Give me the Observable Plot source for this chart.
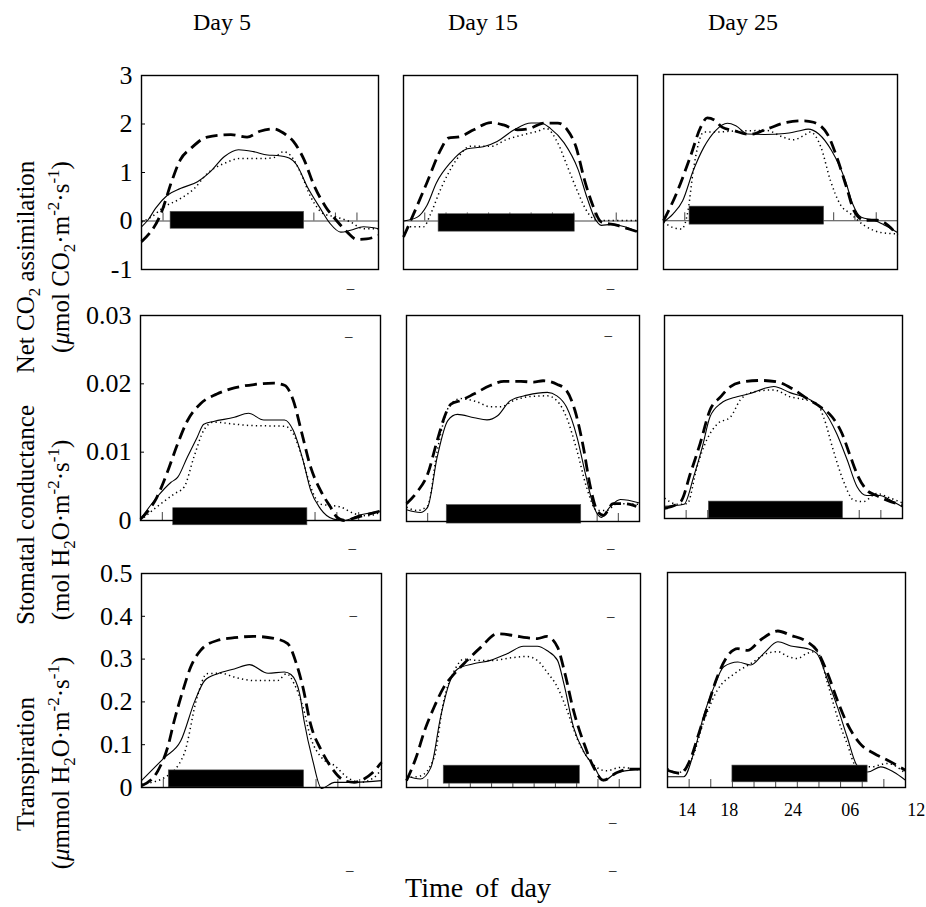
<!DOCTYPE html>
<html><head><meta charset="utf-8">
<script src="https://cdn.jsdelivr.net/npm/d3@7"></script>
<script src="https://cdn.jsdelivr.net/npm/@observablehq/plot@0.6"></script>
<style>
body{margin:0;background:#fff;font-family:"Liberation Serif","Times New Roman",Times,"DejaVu Serif",serif;color:#000;}
#fig{position:relative;width:926px;height:907px;overflow:hidden;}
.p{position:absolute;}
.p svg{overflow:visible;background:transparent;max-width:none !important;display:block;}
.p svg text{font-family:"Liberation Serif","Times New Roman",Times,"DejaVu Serif",serif !important;}
.vl{position:absolute;white-space:nowrap;font-size:25px;line-height:1;transform:translate(-50%,-50%) rotate(-90deg);}
.vl sub,.vl sup{font-size:17px;line-height:0;}
.ct{position:absolute;white-space:nowrap;font-size:24px;transform:translate(-50%,-50%);}
</style></head>
<body><div id="fig"></div>
<script>
// ---------- data ----------
const days = ["Day 5", "Day 15", "Day 25"];
const hourTicks = [2, 4, 6, 8, 10, 12, 14, 16, 18, 20];
const timeLabelPos = [1.8, 5.7, 11.6, 16.9, 23.0];
const timeLabels = ["14", "18", "24", "06", "12"];
const co2Ticks = [-1, 0, 1, 2, 3];
const gsTicks = [0, 0.01, 0.02, 0.03];
const trTicks = [0, 0.1, 0.2, 0.3, 0.4, 0.5];

// Net CO2 assimilation [hour, value]
const co2_d5_solid = [[0,-0.12],[0.6,0.02],[1.3,0.26],[2.4,0.53],[3.6,0.67],[5.2,0.81],[6.4,1.02],[7.7,1.33],[9,1.47],[10.4,1.43],[11.7,1.36],[12.6,1.35],[13.7,1.3],[14.4,1.16],[15.4,0.7],[16.6,0.26],[17.5,-0.05],[18.5,-0.23],[19.4,-0.19],[20.6,-0.12],[22,-0.16]];
const co2_d5_dot = [[0,-0.02],[0.9,0.08],[2.1,0.29],[3.6,0.46],[4.9,0.67],[6.1,0.98],[7.7,1.19],[9.2,1.29],[11.4,1.29],[12.3,1.31],[13.2,1.43],[13.8,1.36],[14.8,0.98],[15.7,0.5],[16.9,0.15],[18.1,0.08],[19.4,-0.02],[20.6,-0.16],[22,-0.16]];
const co2_d5_dash = [[0,-0.43],[1.8,0.15],[2.9,0.88],[3.6,1.26],[4.6,1.5],[6.1,1.73],[8.3,1.78],[9.8,1.73],[11,1.85],[12.3,1.9],[13.2,1.81],[14.1,1.64],[15.1,1.26],[16,0.74],[17.1,0.29],[18.1,0.01],[19.1,-0.23],[20,-0.38],[20.9,-0.37],[22,-0.3]];
const co2_d15_solid = [[0,0],[1.3,0.08],[2.2,0.32],[3.1,0.79],[4.4,1.2],[6,1.49],[7.5,1.53],[8.8,1.64],[10.4,1.88],[12,2.02],[12.9,2.02],[13.8,1.91],[15.1,1.61],[16.4,1.07],[17.3,0.45],[18,0.05],[18.6,-0.09],[19.5,-0.07],[20.8,-0.12],[22,-0.22]];
const co2_d15_dot = [[0.6,-0.12],[1.9,-0.12],[2.5,0.12],[3.5,0.66],[5,1.27],[6.3,1.54],[8.2,1.54],[9.7,1.68],[11.3,1.78],[12.6,1.85],[13.4,1.91],[14.5,1.61],[15.4,1.13],[16.4,0.59],[17.3,0.18],[18.3,0.01],[20.1,0.01],[22,0.01]];
const co2_d15_dash = [[0,-0.33],[0.9,0.12],[2.2,0.79],[3.5,1.47],[4.2,1.71],[5.3,1.74],[6.6,1.88],[8.2,2.03],[9.4,1.98],[10.7,1.88],[11.9,1.91],[13.2,2.02],[14.5,2.02],[15.4,1.88],[16.2,1.54],[17,0.86],[17.8,0.32],[18.6,-0.02],[20.1,-0.09],[21.1,-0.16],[22,-0.22]];
const co2_d25_solid = [[0,-0.03],[0.9,0.14],[1.8,0.41],[2.8,1.03],[3.8,1.51],[4.9,1.85],[6,2.0],[6.8,1.95],[7.9,1.78],[9.5,1.77],[11.4,1.79],[12.7,1.84],[13.6,1.88],[14.6,1.78],[15.8,1.44],[17.1,0.82],[17.8,0.34],[18.6,0.07],[19.8,0.01],[20.7,-0.08],[22,-0.24]];
const co2_d25_dot = [[0,-0.03],[0.9,-0.14],[1.7,-0.17],[2.3,0.2],[2.8,1.03],[3.8,1.82],[5,1.82],[6.6,1.84],[9.7,1.85],[11.3,1.71],[12.2,1.66],[13.2,1.75],[13.8,1.82],[14.8,1.51],[15.7,0.82],[16.6,0.34],[17.6,0.14],[18.9,-0.1],[20.4,-0.24],[22,-0.27]];
const co2_d25_dash = [[0,0],[1.2,0.55],[2.5,1.3],[3.5,1.92],[4.1,2.11],[4.9,2.05],[5.5,1.92],[6.6,1.85],[8.1,1.77],[9.7,1.88],[11.6,2.02],[13.2,2.05],[14.1,2.02],[15.4,1.78],[16.3,1.3],[17.3,0.62],[17.9,0.21],[18.9,0.01],[20.1,0.01],[22,-0.29]];

// Stomatal conductance
const gs_d5_solid = [[0,0.0002],[1.5,0.0034],[2.8,0.0056],[3.4,0.0063],[4.3,0.0093],[5.2,0.0122],[5.8,0.0141],[6.7,0.0145],[8.6,0.0151],[9.9,0.0157],[11.3,0.0147],[13.2,0.0147],[14,0.0132],[14.9,0.0088],[15.6,0.0044],[16.5,0.0017],[17.7,0.0002],[18.7,0],[19.9,0.0007],[22,0.0014]];
const gs_d5_dot = [[0,0],[1.5,0.002],[3.1,0.0039],[4,0.0049],[4.9,0.0093],[5.8,0.0132],[6.7,0.0144],[8.6,0.0141],[10.1,0.0139],[13.2,0.0138],[14,0.0127],[14.8,0.0093],[15.6,0.0049],[16.5,0.0024],[17.4,0.0022],[18.3,0.002],[19.6,0.001],[20.8,0.0007],[22,0.0012]];
const gs_d5_dash = [[0,0.0002],[1.5,0.0034],[2.4,0.0068],[3.4,0.0112],[4.3,0.0146],[5.5,0.0171],[7,0.0185],[8.6,0.0194],[10.4,0.0199],[12.2,0.0201],[13.2,0.0198],[14,0.0176],[14.8,0.0127],[15.6,0.0078],[16.5,0.0044],[17.4,0.002],[18,0.0005],[18.7,0],[19.9,0.0005],[21.1,0.001],[22,0.0014]];
const gs_d15_solid = [[0,0.0017],[1.3,0.0013],[2,0.0021],[2.9,0.0094],[3.9,0.0147],[4.8,0.0156],[6.4,0.0151],[7.6,0.0148],[8.6,0.0154],[9.8,0.0176],[11.4,0.0184],[13.3,0.0188],[14.2,0.0183],[15.1,0.0167],[16.1,0.0123],[16.9,0.0069],[17.7,0.0021],[18.4,0.0006],[19.2,0.0021],[20.2,0.0032],[22,0.0027]];
const gs_d15_dot = [[0,0.0021],[1,0.0016],[2,0.0023],[2.9,0.0103],[4,0.0167],[5.1,0.0179],[6.7,0.0174],[7.9,0.0167],[8.9,0.0167],[10.1,0.0176],[11.7,0.0182],[13.3,0.0183],[14.2,0.0176],[15.1,0.0152],[16.1,0.0103],[17,0.005],[18,0.0016],[18.9,0.0016],[19.9,0.0026],[22,0.0025]];
const gs_d15_dash = [[0,0.0026],[1,0.0043],[2,0.0069],[2.9,0.0118],[3.7,0.0157],[4.2,0.0171],[5.1,0.0176],[6.4,0.0186],[7.9,0.0198],[9.2,0.0204],[10.8,0.0204],[12,0.0203],[12.9,0.0205],[14.2,0.02],[15.1,0.0191],[15.9,0.0162],[16.7,0.0108],[17.3,0.0055],[18,0.0016],[18.6,0.0009],[19.5,0.0026],[20.5,0.0026],[21.7,0.0022]];
const gs_d25_solid = [[0,0.0018],[1.8,0.0021],[2.7,0.0062],[3.5,0.0106],[4.2,0.015],[5.2,0.017],[6.7,0.018],[8,0.0185],[9.2,0.0192],[10.1,0.0195],[11.6,0.0186],[13.5,0.0175],[14.7,0.016],[15.9,0.0126],[16.9,0.0086],[17.8,0.0047],[18.7,0.0034],[19.9,0.0034],[20.9,0.0027],[22,0.0017]];
const gs_d25_dot = [[0,0.003],[1.2,0.0021],[2.1,0.0022],[3,0.0076],[3.9,0.0116],[4.9,0.014],[6.1,0.015],[7,0.0175],[8.2,0.0187],[10.1,0.019],[11.6,0.018],[12.9,0.0176],[14.1,0.017],[14.7,0.015],[15.6,0.0101],[16.5,0.0057],[17.5,0.0027],[18.4,0.0025],[19.6,0.0037],[20.9,0.003],[22,0.0023]];
const gs_d25_dash = [[0,0.0015],[1.5,0.0025],[2.4,0.0067],[3.3,0.0111],[4.2,0.016],[5.2,0.018],[6.1,0.0195],[7.3,0.0202],[8.9,0.0204],[10.4,0.0202],[11.9,0.0191],[13.2,0.0177],[14.4,0.0165],[15.5,0.015],[16.4,0.0126],[17.2,0.0091],[17.9,0.0062],[18.7,0.0042],[19.6,0.0034],[20.9,0.0025],[22,0.002]];

// Transpiration
const tr_d5_solid = [[0,0.016],[2.1,0.07],[3.6,0.109],[4.9,0.203],[5.8,0.25],[7,0.266],[8.5,0.277],[9.9,0.287],[11.6,0.267],[13.1,0.27],[13.7,0.264],[14.5,0.219],[14.9,0.156],[15.7,0.063],[16.5,-0.002],[17.7,0.012],[19.5,0.012],[22,0.016]];
const tr_d5_dot = [[0,0.008],[2.1,0.023],[3.9,0.078],[5.1,0.211],[6,0.266],[7.3,0.267],[8.5,0.258],[10.3,0.25],[12.5,0.25],[13.3,0.266],[14,0.242],[14.8,0.188],[15.5,0.117],[16.5,0.07],[17.7,0.051],[18.9,0.023],[20.1,0.012],[21.3,0.023],[22,0.043]];
const tr_d5_dash = [[0,0.004],[1.5,0.039],[2.4,0.094],[3,0.156],[3.8,0.227],[4.5,0.281],[5.4,0.32],[7,0.344],[8.5,0.35],[10.3,0.353],[12.2,0.348],[13.4,0.336],[14.2,0.289],[14.8,0.234],[15.5,0.148],[16.5,0.086],[17.4,0.047],[18.6,0.016],[19.5,0.012],[20.4,0.02],[21.2,0.035],[22,0.059]];
const tr_d15_solid = [[0,0.027],[1.3,0.02],[2.3,0.047],[3.2,0.164],[4,0.242],[4.8,0.277],[6.3,0.289],[7.9,0.297],[9.5,0.313],[11,0.33],[12.3,0.33],[13.2,0.32],[14.2,0.297],[14.8,0.242],[15.7,0.141],[16.7,0.082],[17.6,0.051],[18.5,0.016],[19.8,0.035],[22,0.043]];
const tr_d15_dot = [[0,0.023],[1.3,0.027],[2.6,0.07],[3.5,0.203],[4.5,0.273],[5.4,0.3],[6.7,0.297],[8.2,0.297],[9.8,0.303],[11.3,0.306],[12.3,0.297],[13.2,0.27],[14.2,0.234],[15.1,0.18],[16,0.117],[17,0.07],[17.9,0.047],[18.8,0.039],[20.1,0.047],[22,0.04]];
const tr_d15_dash = [[0,0.016],[0.9,0.07],[1.7,0.133],[2.6,0.188],[3.5,0.234],[4.5,0.266],[5.7,0.297],[7,0.328],[8.5,0.359],[10.1,0.355],[11.3,0.35],[12.3,0.348],[13.2,0.353],[14.2,0.328],[14.9,0.266],[15.7,0.18],[16.7,0.102],[17.6,0.047],[18.5,0.017],[19.8,0.035],[21,0.043],[22,0.043]];
const tr_d25_solid = [[0,0.025],[1.5,0.025],[2.5,0.087],[3.4,0.172],[4.3,0.234],[5.2,0.281],[6.5,0.292],[7.7,0.285],[8.9,0.312],[10.2,0.339],[11.4,0.329],[12.9,0.323],[13.8,0.312],[14.8,0.25],[15.7,0.188],[16.6,0.118],[17.5,0.052],[18.5,0.036],[19.7,0.048],[20.9,0.036],[22,0.017]];
const tr_d25_dot = [[0,0.044],[0.9,0.034],[2.2,0.064],[3.4,0.157],[4.6,0.226],[6.2,0.265],[7.7,0.288],[9.2,0.312],[10.2,0.316],[11.1,0.305],[12,0.3],[12.9,0.312],[13.8,0.316],[14.8,0.242],[15.7,0.164],[16.6,0.102],[17.5,0.048],[18.8,0.048],[20.3,0.056],[22,0.033]];
const tr_d25_dash = [[0,0.04],[1.2,0.033],[2.2,0.071],[2.9,0.126],[3.7,0.188],[4.6,0.257],[5.5,0.304],[6.5,0.323],[7.4,0.319],[8.6,0.343],[10.2,0.364],[11.4,0.354],[12.9,0.339],[13.8,0.319],[14.8,0.265],[15.7,0.203],[16.6,0.149],[17.8,0.102],[19.1,0.079],[20.3,0.064],[22,0.04]];

// dark-period bars [start hour, end hour, low, high] per day
const co2Bars = [[2.7,15.1,-0.16,0.19],[3.3,16.1,-0.22,0.14],[2.45,15.1,-0.08,0.29]];
const gsBars = [[3.0,15.3,-0.0007,0.0018],[3.8,16.5,-0.0003,0.0024],[4.1,16.5,0,0.0025]];
const trBars = [[2.5,14.9,0,0.04],[3.5,16.3,0.009,0.051],[6.0,18.5,0.012,0.051]];

// stray dash glyphs in the figure [hour, value]
const co2Strays = [[[19.4,-1.39]],[[19.45,-1.39]],[]];
const gsStrays = [[[19.1,0.0269],[19.4,-0.0041]],[[19.05,0.0272]],[]];
const trStrays = [[[19.4,0.402],[19.1,-0.194]],[[19.2,0.40],[19.2,0.558],[19.4,-0.082],[19.4,-0.194]],[]];

// ---------- layout ----------
const SERIF = "'Liberation Serif', 'Times New Roman', Times, 'DejaVu Serif', serif";
const fig = document.getElementById("fig");
const rows = [
  {boxes:[[141,75,378,269],[403,75,637,269],[663,74,897,269]], domain:[-1,3], ticks:co2Ticks, base:0, zero:true,
   series:[[co2_d5_solid,co2_d5_dot,co2_d5_dash],[co2_d15_solid,co2_d15_dot,co2_d15_dash],[co2_d25_solid,co2_d25_dot,co2_d25_dash]],
   bars:co2Bars, strays:co2Strays},
  {boxes:[[140,315,380,520],[406,315,639,521],[664,315,902,518]], domain:[0,0.03], ticks:gsTicks, base:0, zero:false,
   series:[[gs_d5_solid,gs_d5_dot,gs_d5_dash],[gs_d15_solid,gs_d15_dot,gs_d15_dash],[gs_d25_solid,gs_d25_dot,gs_d25_dash]],
   bars:gsBars, strays:gsStrays},
  {boxes:[[141,573,381,787],[406,573,640,787],[667,572,905,787]], domain:[0,0.5], ticks:trTicks, base:0, zero:false,
   series:[[tr_d5_solid,tr_d5_dot,tr_d5_dash],[tr_d15_solid,tr_d15_dot,tr_d15_dash],[tr_d25_solid,tr_d25_dot,tr_d25_dash]],
   bars:trBars, strays:trStrays}
];
const styles = [
  {strokeWidth:1.1},
  {strokeWidth:1.5, strokeDasharray:"1.3,3.2"},
  {strokeWidth:2.8, strokeDasharray:"12,6"}
];

rows.forEach((row, ri) => {
  row.boxes.forEach((box, ci) => {
    const [L,T,R,B] = box;
    const w = R - L, h = B - T;
    const ml = 70, mr = 40, mt = 20, mb = 110;
    const [y0, y1] = row.domain;
    const basePx = h * (y1 - row.base) / (y1 - y0);
    const marks = [];
    if (row.zero) marks.push(Plot.ruleY([0], {stroke:"#444", strokeWidth:1}));
    // time ticks pointing up from the baseline
    marks.push(Plot.ruleX(hourTicks, {x:d=>d, y1:y1, y2:row.base, stroke:"#444", strokeWidth:1, insetTop: basePx - 8}));
    row.series[ci].forEach((s, si) => {
      marks.push(Plot.line(s, {x:d=>d[0], y:d=>d[1], stroke:"#000", curve:"monotone-x", strokeLinecap:"butt", ...styles[si]}));
    });
    const b = row.bars[ci];
    marks.push(Plot.rect([b], {x1:d=>d[0], x2:d=>d[1], y1:d=>d[2], y2:d=>d[3], fill:"#000", stroke:"#555", strokeWidth:0.6}));
    marks.push(Plot.frame({stroke:"#000", strokeWidth:1.4}));
    if (ci === 0) {
      marks.push(Plot.ruleY(row.ticks, {y:d=>d, x1:0, x2:22, insetRight: w - 4, stroke:"#000", strokeWidth:1}));
      marks.push(Plot.text(row.ticks, {x:0, y:d=>d, text:d=>String(d), textAnchor:"end", dx:-9, fontSize:26, fontFamily:SERIF, fill:"#000"}));
    }
    if (ri === 2 && ci === 2) {
      marks.push(Plot.text(timeLabelPos, {x:d=>d, y:y0, text:(d,i)=>timeLabels[i], dy:23, fontSize:18, fontFamily:SERIF, fill:"#000"}));
    }
    const st = row.strays[ci];
    if (st.length) marks.push(Plot.text(st, {x:d=>d[0], y:d=>d[1], text:()=>"\u2013", fontSize:15, fontFamily:SERIF, fill:"#000"}));

    const W = w + ml + mr, Hh = h + mt + mb;
    const svg = Plot.plot({
      width: W, height: Hh,
      marginLeft: ml, marginRight: mr, marginTop: mt, marginBottom: mb,
      x: {domain:[0,22], axis:null},
      y: {domain: row.domain, axis:null},
      style: {background:"transparent", overflow:"visible", fontFamily:SERIF},
      marks
    });
    svg.style.maxWidth = "none";
    svg.style.width = W + "px";
    svg.style.height = Hh + "px";
    const wrap = document.createElement("div");
    wrap.className = "p";
    wrap.style.left = (L - ml) + "px";
    wrap.style.top = (T - mt) + "px";
    wrap.style.width = W + "px";
    wrap.style.height = Hh + "px";
    wrap.appendChild(svg);
    fig.appendChild(wrap);
  });
});

// column titles
const titleX = [222, 483, 743];
days.forEach((d, i) => {
  const el = document.createElement("div");
  el.className = "ct"; el.style.left = titleX[i] + "px"; el.style.top = "22px";
  el.textContent = d; fig.appendChild(el);
});

// vertical axis titles
const vlabels = [
  {x:25, y:267, html:"Net CO<sub>2</sub> assimilation"},
  {x:60, y:257, html:"(<i>\u03bc</i>mol CO<sub>2</sub>\u00b7m<sup>-2</sup>\u00b7s<sup>-1</sup>)"},
  {x:25, y:515, html:"Stomatal conductance"},
  {x:60, y:530, html:"(mol H<sub>2</sub>O\u00b7m<sup>-2</sup>\u00b7s<sup>-1</sup>)"},
  {x:25, y:764, html:"Transpiration"},
  {x:60, y:763, html:"(<i>\u03bc</i>mmol H<sub>2</sub>O\u00b7m<sup>-2</sup>\u00b7s<sup>-1</sup>)"}
];
vlabels.forEach(v => {
  const el = document.createElement("div");
  el.className = "vl"; el.style.left = v.x + "px"; el.style.top = v.y + "px";
  el.innerHTML = v.html; fig.appendChild(el);
});

const xt = document.createElement("div");
xt.className = "ct"; xt.style.left = "478px"; xt.style.top = "888px";
xt.style.fontSize = "28px"; xt.style.wordSpacing = "5px";
xt.textContent = "Time of day"; fig.appendChild(xt);
</script>
</body></html>
